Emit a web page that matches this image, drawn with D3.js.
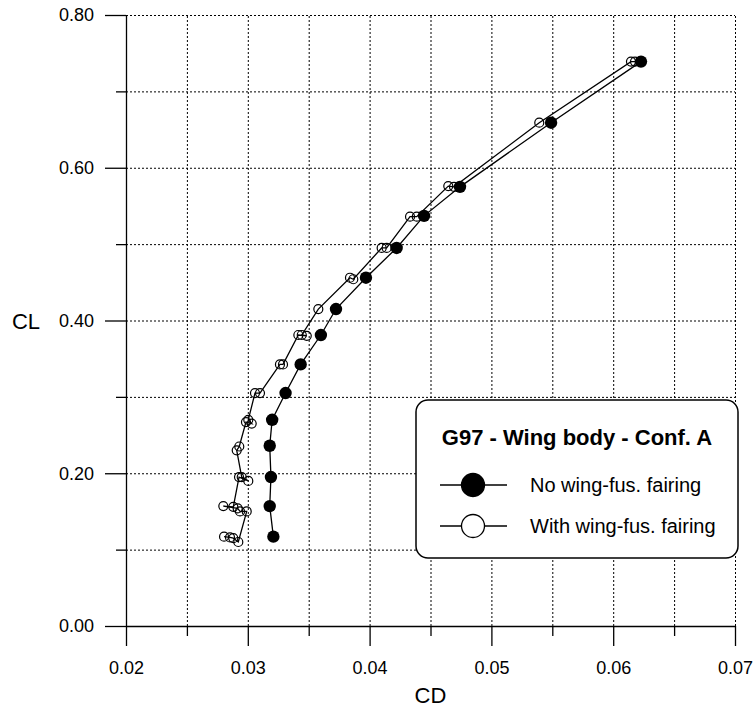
<!DOCTYPE html>
<html>
<head>
<meta charset="utf-8">
<script src="https://cdn.jsdelivr.net/npm/d3@7"></script>
<style>
    body { margin: 0; background: #fff; }
    svg { display: block; font-family: Arial, 'Liberation Sans', Helvetica, sans-serif; }
    .grid line { stroke: #000; stroke-dasharray: 2, 2; stroke-width: 1; }
    .grid path { display: none; }
    .axis path, .axis line { stroke: #000; stroke-width: 1.3; }
</style>
</head>
<body>
<svg id="chart"></svg>
<script>
// Values.
const cdNoFairing = [0.0321, 0.0318, 0.0319, 0.0318, 0.0320, 0.0331, 0.03434, 0.0360, 0.03724, 0.0397, 0.04222, 0.04447, 0.04742, 0.0549, 0.06228];
const clNoFairing = [0.117, 0.157, 0.195, 0.236, 0.270, 0.305, 0.3425, 0.381, 0.415, 0.456, 0.495, 0.537, 0.575, 0.659, 0.739];

const cdWithFairing = [
    0.02805, 0.02854, 0.02881, 0.02922,
    0.02991, 0.02936, 0.02917, 0.02799, 0.02881,
    0.02928, 0.03004, 0.02950,
    0.02909, 0.02930,
    0.02985, 0.03032, 0.03004,
    0.03059, 0.03100,
    0.03264, 0.03289,
    0.03415, 0.03484, 0.03443,
    0.03579,
    0.03839, 0.03866,
    0.04099, 0.04140,
    0.04332, 0.04387,
    0.04646, 0.04693,
    0.05393,
    0.06146, 0.06179,
];
const clWithFairing = [
    0.117, 0.116, 0.115, 0.110,
    0.150, 0.150, 0.154, 0.157, 0.156,
    0.195, 0.190, 0.195,
    0.230, 0.235,
    0.267, 0.265, 0.270,
    0.305, 0.305,
    0.3425, 0.3425,
    0.381, 0.380, 0.381,
    0.415,
    0.456, 0.454,
    0.495, 0.495,
    0.536, 0.536,
    0.576, 0.575,
    0.659,
    0.739, 0.739,
];

const xMajorTicks = [0.02, 0.03, 0.04, 0.05, 0.06, 0.07];
const xMinorTicks = [0.025, 0.035, 0.045, 0.055, 0.065];
const yMajorTicks = [0.0, 0.2, 0.4, 0.6, 0.8];
const yMinorTicks = [0.1, 0.3, 0.5, 0.7];

const legendTitle = 'G97 - Wing body - Conf. A';
const seriesNames = ['No wing-fus. fairing', 'With wing-fus. fairing'];

// Layout.
const width = 756;
const height = 712;
const margin = { left: 126, right: 21, top: 15, bottom: 86 };

const svg = d3.select('#chart').attr('width', width).attr('height', height);

const x = d3.scaleLinear().domain([0.02, 0.07]).range([margin.left, width - margin.right]);
const y = d3.scaleLinear().domain([0, 0.8]).range([height - margin.bottom, margin.top]);

// Dotted grid.
svg.append('g')
    .attr('class', 'grid')
    .attr('transform', `translate(0, ${y(0)})`)
    .call(d3.axisBottom(x).tickValues([...xMajorTicks, ...xMinorTicks].filter(d => d > 0.02)).tickSize(-(y(0) - y(0.8))).tickFormat(''));
svg.append('g')
    .attr('class', 'grid')
    .attr('transform', `translate(${x(0.02)}, 0)`)
    .call(d3.axisLeft(y).tickValues([...yMajorTicks, ...yMinorTicks].filter(d => d > 0)).tickSize(-(x(0.07) - x(0.02))).tickFormat(''));

// Axes: major ticks with labels, minor ticks without.
const xAxis = svg.append('g')
    .attr('class', 'axis')
    .attr('transform', `translate(0, ${y(0)})`)
    .call(d3.axisBottom(x).tickValues(xMajorTicks).tickSize(20).tickSizeOuter(0).tickPadding(15).tickFormat(d3.format('.2f')));
xAxis.selectAll('text').attr('font-size', 18).attr('fill', '#000').attr('font-family', null);
svg.append('g')
    .attr('class', 'axis')
    .attr('transform', `translate(0, ${y(0)})`)
    .call(d3.axisBottom(x).tickValues(xMinorTicks).tickSize(10).tickSizeOuter(0).tickFormat(''))
    .select('path').remove();

const yAxis = svg.append('g')
    .attr('class', 'axis')
    .attr('transform', `translate(${x(0.02)}, 0)`)
    .call(d3.axisLeft(y).tickValues(yMajorTicks).tickSize(21).tickSizeOuter(0).tickPadding(11).tickFormat(d3.format('.2f')));
yAxis.selectAll('text').attr('font-size', 18).attr('fill', '#000').attr('font-family', null);
svg.append('g')
    .attr('class', 'axis')
    .attr('transform', `translate(${x(0.02)}, 0)`)
    .call(d3.axisLeft(y).tickValues(yMinorTicks).tickSize(10).tickSizeOuter(0).tickFormat(''))
    .select('path').remove();

// Axis titles.
svg.append('text')
    .attr('x', (x(0.02) + x(0.07)) / 2)
    .attr('y', 703)
    .attr('text-anchor', 'middle')
    .attr('font-size', 22)
    .text('CD');
svg.append('text')
    .attr('x', 26)
    .attr('y', y(0.4) + 8)
    .attr('text-anchor', 'middle')
    .attr('font-size', 22)
    .text('CL');

// Series.
const noFairing = cdNoFairing.map((cd, i) => ({ cd, cl: clNoFairing[i] }));
const withFairing = cdWithFairing.map((cd, i) => ({ cd, cl: clWithFairing[i] }));

const line = d3.line().x(d => x(d.cd)).y(d => y(d.cl));

svg.append('path')
    .datum(withFairing)
    .attr('d', line)
    .attr('fill', 'none')
    .attr('stroke', '#000')
    .attr('stroke-width', 1.3);
svg.append('path')
    .datum(noFairing)
    .attr('d', line)
    .attr('fill', 'none')
    .attr('stroke', '#000')
    .attr('stroke-width', 1.3);

svg.append('g')
    .selectAll('circle')
    .data(withFairing)
    .enter()
    .append('circle')
    .attr('cx', d => x(d.cd))
    .attr('cy', d => y(d.cl))
    .attr('r', 4.5)
    .attr('fill', 'none')
    .attr('stroke', '#000')
    .attr('stroke-width', 1.2);

svg.append('g')
    .selectAll('circle')
    .data(noFairing)
    .enter()
    .append('circle')
    .attr('cx', d => x(d.cd))
    .attr('cy', d => y(d.cl))
    .attr('r', 6.2)
    .attr('fill', '#000');

// Legend box.
const legend = svg.append('g').attr('transform', 'translate(416, 400)');
legend.append('rect')
    .attr('width', 322)
    .attr('height', 158)
    .attr('rx', 12)
    .attr('fill', '#fff')
    .attr('stroke', '#000')
    .attr('stroke-width', 1.5);
legend.append('text')
    .attr('x', 161)
    .attr('y', 45)
    .attr('text-anchor', 'middle')
    .attr('font-size', 22)
    .attr('font-weight', 'bold')
    .text(legendTitle);

seriesNames.forEach((name, i) => {
    const row = legend.append('g').attr('transform', `translate(0, ${85 + i * 41})`);
    row.append('line')
        .attr('x1', 24)
        .attr('x2', 91)
        .attr('stroke', '#000')
        .attr('stroke-width', 1.3);
    row.append('circle')
        .attr('cx', 57)
        .attr('r', 11.5)
        .attr('fill', i === 0 ? '#000' : '#fff')
        .attr('stroke', '#000')
        .attr('stroke-width', 1.3);
    row.append('text')
        .attr('x', 114)
        .attr('y', 7)
        .attr('font-size', 20)
        .text(name);
});
</script>
</body>
</html>
